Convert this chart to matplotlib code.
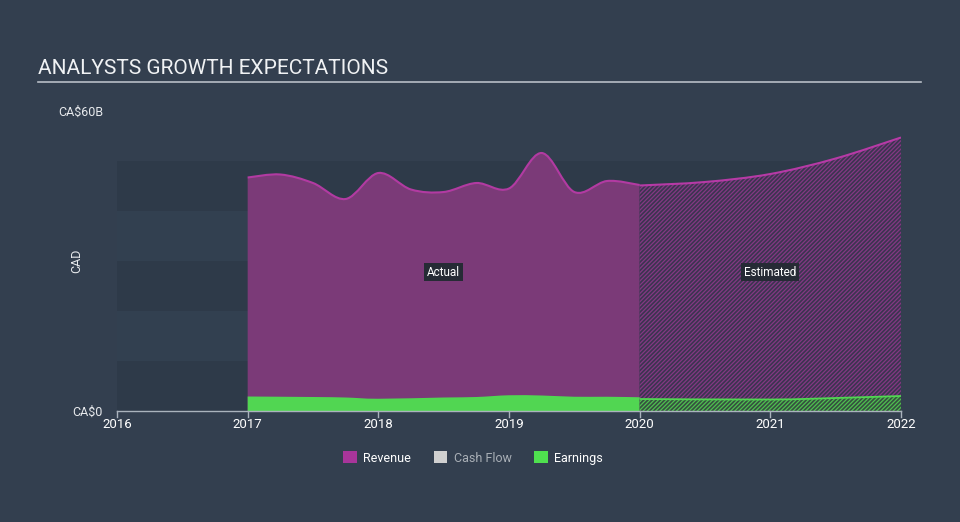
import numpy as np
import matplotlib
matplotlib.use('Agg')
import matplotlib.pyplot as plt
from matplotlib.path import Path
from matplotlib.patches import PathPatch, Patch

plt.rcParams['font.family'] = ['Roboto', 'DejaVu Sans']
plt.rcParams['hatch.linewidth'] = 0.9

# Datos (miles de millones CAD)
rev_actual_x = [2017.0, 2017.25, 2017.5, 2017.75, 2018.0, 2018.25, 2018.5,
                2018.75, 2019.0, 2019.25, 2019.5, 2019.75, 2020.0]
rev_actual_y = [46.7, 47.3, 45.6, 42.4, 47.6, 44.3, 43.8,
                45.6, 44.5, 51.6, 43.8, 46.0, 45.2]
rev_est_x = [2020.0, 2020.5, 2021.0, 2021.5, 2022.0]
rev_est_y = [45.1, 45.8, 47.4, 50.5, 54.7]

earn_actual_x = [2017.0, 2017.5, 2017.75, 2018.0, 2018.5, 2018.75,
                 2019.0, 2019.25, 2019.5, 2019.75, 2020.0]
earn_actual_y = [2.9, 2.8, 2.7, 2.45, 2.7, 2.8, 3.15, 3.1, 2.85, 2.85, 2.75]
earn_est_x = [2020.0, 2021.0, 2021.5, 2022.0]
earn_est_y = [2.4, 2.3, 2.6, 3.0]

years = [2016, 2017, 2018, 2019, 2020, 2021, 2022]
y_ticks = [0, 60]
y_labels = ['CA$0', 'CA$60B']

BG = '#333f4f'


def smooth_path(xs, ys, close=True):
    # curva suave (Catmull-Rom -> Bezier) a través de los puntos
    p = np.column_stack([xs, ys]).astype(float)
    ext = np.vstack([p[0], p, p[-1]])
    verts = [p[0]]
    codes = [Path.MOVETO]
    for i in range(len(p) - 1):
        p0, p1, p2, p3 = ext[i], ext[i + 1], ext[i + 2], ext[i + 3]
        verts += [p1 + (p2 - p0) / 6, p2 - (p3 - p1) / 6, p2]
        codes += [Path.CURVE4] * 3
    if close:
        verts += [(xs[-1], 0), (xs[0], 0), p[0]]
        codes += [Path.LINETO, Path.LINETO, Path.CLOSEPOLY]
    return Path(verts, codes)


fig = plt.figure(figsize=(9.6, 5.22), dpi=100, facecolor=BG)
ax = fig.add_axes([117 / 960, (522 - 411) / 522, (901 - 117) / 960, 300 / 522])
ax.set_facecolor('none')
ax.set_xlim(2016, 2022.0)
ax.set_ylim(0, 60)

# bandas de fondo
for i, c in enumerate(['#2e3a49', '#324050', '#2e3a49', '#324050', '#2e3a49']):
    ax.axhspan(i * 10, (i + 1) * 10, color=c, zorder=0, lw=0)

# Revenue
ax.add_patch(PathPatch(smooth_path(rev_actual_x, rev_actual_y),
                       facecolor='#7b3a78', edgecolor='none', zorder=2))
ax.add_patch(PathPatch(smooth_path(rev_actual_x, rev_actual_y, close=False),
                       facecolor='none', edgecolor='#b23aa2', lw=1.5, zorder=3))
ax.add_patch(PathPatch(smooth_path(rev_est_x, rev_est_y),
                       facecolor='#3b3450', edgecolor='#843884', hatch='////////',
                       lw=0, zorder=2))
ax.add_patch(PathPatch(smooth_path(rev_est_x, rev_est_y, close=False),
                       facecolor='none', edgecolor='#b63aa6', lw=1.5, zorder=3))

# Earnings
ax.add_patch(PathPatch(smooth_path(earn_actual_x, earn_actual_y),
                       facecolor='#51d652', edgecolor='none', zorder=4))
ax.add_patch(PathPatch(smooth_path(earn_est_x, earn_est_y),
                       facecolor='#35503f', edgecolor='#4fbf50', hatch='////////',
                       lw=0, zorder=4))
ax.add_patch(PathPatch(smooth_path(earn_est_x, earn_est_y, close=False),
                       facecolor='none', edgecolor='#51d652', lw=1.3, zorder=5))

# etiquetas Actual / Estimated
box = dict(boxstyle='square,pad=0.25', facecolor='#262b35', edgecolor='none')
ax.text(2018.5, 27.8, 'Actual', color='white', fontsize=8.5, ha='center',
        va='center', bbox=box, zorder=6)
ax.text(2021.0, 27.8, 'Estimated', color='white', fontsize=8.5, ha='center',
        va='center', bbox=box, zorder=6)

# ejes
for s in ['top', 'right', 'left']:
    ax.spines[s].set_visible(False)
ax.spines['bottom'].set_color('#aab3bd')
ax.spines['bottom'].set_linewidth(1)
ax.spines['bottom'].set_zorder(7)
ax.set_xticks(years)
ax.set_xticklabels([str(y) for y in years])
ax.tick_params(axis='x', length=0, pad=5, labelcolor='white', labelsize=9.5)
for y in years:
    ax.plot([y, y], [0, -1.2], color='#aab3bd', lw=1, clip_on=False, zorder=7)
ax.set_yticks(y_ticks)
ax.set_yticklabels(y_labels)
ax.tick_params(axis='y', length=0, pad=10, labelcolor='#e8eaed', labelsize=9)
ax.set_ylabel('CAD', color='#e8eaed', fontsize=9)
ax.yaxis.set_label_coords(-0.043, 0.5)

# título
fig.text(38 / 960, 1 - 68 / 522, 'ANALYSTS GROWTH EXPECTATIONS', color='#f0f2f4',
         fontsize=15, ha='left', va='center')
fig.add_artist(plt.Line2D([38 / 960, 921 / 960], [1 - 82 / 522, 1 - 82 / 522],
                          color='#b8bec6', lw=1.2))

# leyenda
handles = [Patch(facecolor='#a8359a', label='Revenue'),
           Patch(facecolor='#d0d0d0', label='Cash Flow'),
           Patch(facecolor='#4fe04f', label='Earnings')]
leg = fig.legend(handles=handles, loc='center', bbox_to_anchor=(473 / 960, 1 - 458 / 522),
                 ncol=3, frameon=False, fontsize=9, handlelength=1.1,
                 handleheight=1.1, columnspacing=1.8, handletextpad=0.5)
for t, c in zip(leg.get_texts(), ['white', '#a9afb6', 'white']):
    t.set_color(c)

fig.savefig('out.png', dpi=100, facecolor=BG)
